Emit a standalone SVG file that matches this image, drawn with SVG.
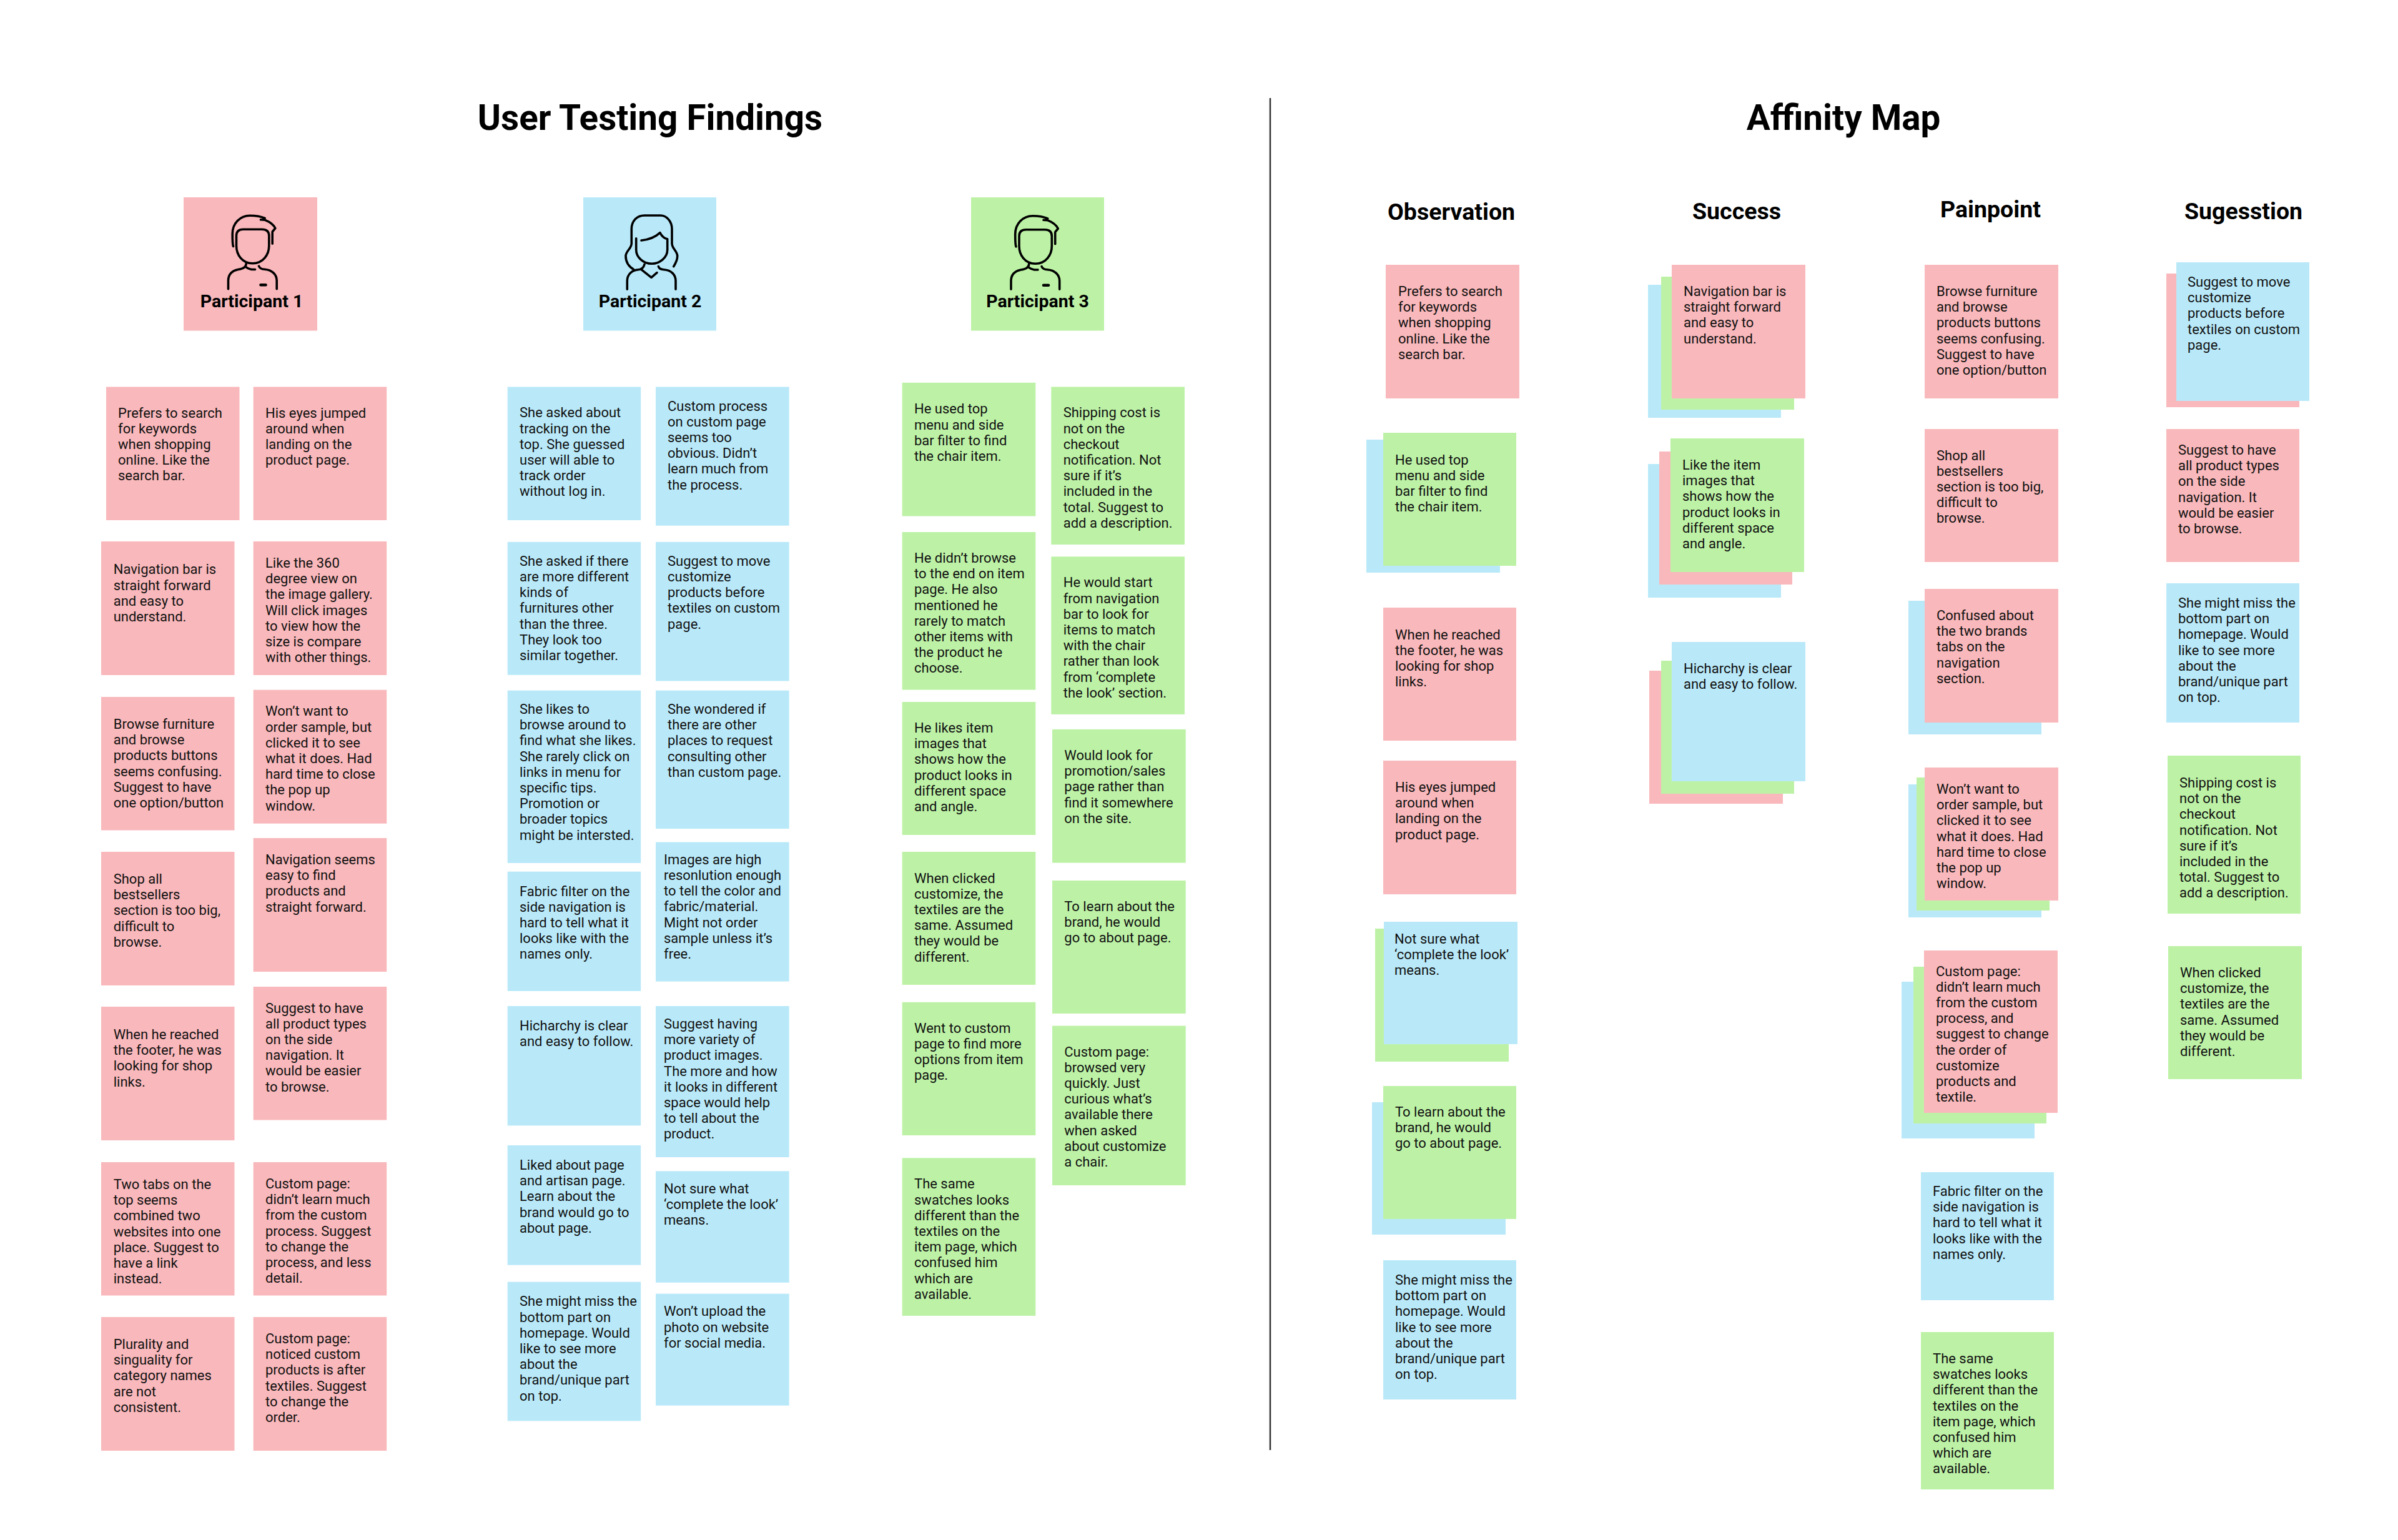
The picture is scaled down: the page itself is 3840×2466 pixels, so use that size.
<svg xmlns="http://www.w3.org/2000/svg" xmlns:xlink="http://www.w3.org/1999/xlink" width="3840" height="2466" viewBox="0 0 3840 2466">
<style>
.p{fill:#F9B8BB}.b{fill:#B9E9F9}.g{fill:#BDF2A6}
text{font-family:Roboto,"Liberation Sans",sans-serif;fill:#111}
.t{font-size:22px;transform:translateY(-1px)}
.h1{font-size:56.6px;font-weight:700;fill:#000;text-anchor:middle}
.h2{font-size:37.5px;font-weight:700;fill:#000}
.l{font-size:28.5px;font-weight:700;fill:#000;text-anchor:middle}
.i{fill:none;stroke:#000;stroke-width:3.6;stroke-linecap:round;stroke-linejoin:round}
</style>
<defs>
<g id="man" class="i">
<path d="M72 79 Q70.700 76 70.700 59 C70.700 42 83 29.700 98.700 29.700 C108 29.700 116 31 122.700 34 M116 36.300 L123 36.800 C131 40 137 45 139.300 50 L134.700 55.700 V74.700"/>
<path d="M103 106.300 C86 106.300 77 92 77 78 V62 Q77 51.700 88 51.700 H118 Q129.300 51.700 129.300 62 V78 C129.300 92 120 106.300 103 106.300 Z"/>
<path d="M92.700 106.700 Q92.700 114 80 116 C70 118 64 124 64 134 V147.300"/>
<path d="M92.700 112.300 Q98 116.500 107 116"/>
<path d="M113 110.700 Q115 115.700 122 115.700 C134 116.500 141.700 124 141.700 134 V147.300"/>
<path d="M116 140.700 H124" stroke-width="4.500"/>
</g>
<g id="woman" class="i">
<path d="M144.700 110.700 C149 104 150.700 99 150.700 94 C150.700 86 142 82 142 74 V50.700 C142 38 133 29 123.700 29 H98 C86 29 77.300 38 77.300 50.700 V74 C77.300 82 68 86 68 94 C68 103 73 111 81 115.700"/>
<path d="M84.700 65.700 V84 C84.700 96 96 106.300 109.700 106.300 C123 106.300 134.700 96 134.700 84 V66.700 Q127 65 123 56.700 C115 64 104 68 93 69"/>
<path d="M70.300 147.300 V134 C70.300 124 77 117 87 116 Q96 115.700 98 107.300"/>
<path d="M93 115.700 L109 128.300 L118 120.700"/>
<path d="M120.300 110.700 Q122 115.700 129 115.700 C141 116.500 148 124 148 134 V147.300"/>
</g>
</defs>
<rect width="3840" height="2466" fill="#fff"/>
<text id="title-left" class="h1" x="1041" y="208">User Testing Findings</text>
<text id="title-right" class="h1" x="2952" y="208">Affinity Map</text>
<line id="divider" x1="2034" y1="157" x2="2034" y2="2322" stroke="#333" stroke-width="2.500"/>
<g id="connectors"/>

<g id="participant-1"><rect class="p" x="294" y="316" width="214" height="213.500"/><use xlink:href="#man" href="#man" transform="translate(301.500 315.500)"/><text class="l" x="403" y="492">Participant 1</text></g>
<g id="participant-2"><rect class="b" x="934" y="316" width="213" height="213.500"/><use xlink:href="#woman" href="#woman" transform="translate(934 316)"/><text class="l" x="1041" y="492">Participant 2</text></g>
<g id="participant-3"><rect class="g" x="1555" y="316" width="213" height="213.500"/><use xlink:href="#man" href="#man" transform="translate(1555 316)"/><text class="l" x="1661.500" y="492">Participant 3</text></g>

<g id="p1-a1"><rect class="p" x="170" y="619.500" width="213.500" height="213.500"/><text class="t" x="189" y="669.600"><tspan x="189">Prefers to search</tspan><tspan x="189" dy="25.2">for keywords</tspan><tspan x="189" dy="25.2">when shopping</tspan><tspan x="189" dy="25.2">online. Like the</tspan><tspan x="189" dy="25.2">search bar.</tspan></text></g>
<g id="p1-a2"><rect class="p" x="162" y="867" width="213.500" height="214"/><text class="t" y="920.300"><tspan x="181.700">Navigation bar is</tspan><tspan x="181.700" dy="25.2">straight forward</tspan><tspan x="181.700" dy="25.2">and easy to</tspan><tspan x="181.700" dy="25.2">understand.</tspan></text></g>
<g id="p1-a3"><rect class="p" x="162" y="1116" width="213.500" height="213.500"/><text class="t" y="1168"><tspan x="181.700">Browse furniture</tspan><tspan x="181.700" dy="25.2">and browse</tspan><tspan x="181.700" dy="25.2">products buttons</tspan><tspan x="181.700" dy="25.2">seems confusing.</tspan><tspan x="181.700" dy="25.2">Suggest to have</tspan><tspan x="181.700" dy="25.2">one option/button</tspan></text></g>
<g id="p1-a4"><rect class="p" x="162" y="1364" width="213.500" height="214"/><text class="t" y="1416"><tspan x="181.700">Shop all</tspan><tspan x="181.700" dy="25.2">bestsellers</tspan><tspan x="181.700" dy="25.2">section is too big,</tspan><tspan x="181.700" dy="25.2">difficult to</tspan><tspan x="181.700" dy="25.2">browse.</tspan></text></g>
<g id="p1-a5"><rect class="p" x="162" y="1612" width="213.500" height="214"/><text class="t" y="1665"><tspan x="181.700">When he reached</tspan><tspan x="181.700" dy="25.2">the footer, he was</tspan><tspan x="181.700" dy="25.2">looking for shop</tspan><tspan x="181.700" dy="25.2">links.</tspan></text></g>
<g id="p1-a6"><rect class="p" x="162" y="1861" width="213.500" height="213.500"/><text class="t" y="1905"><tspan x="181.700">Two tabs on the</tspan><tspan x="181.700" dy="25.2">top seems</tspan><tspan x="181.700" dy="25.2">combined two</tspan><tspan x="181.700" dy="25.2">websites into one</tspan><tspan x="181.700" dy="25.2">place. Suggest to</tspan><tspan x="181.700" dy="25.2">have a link</tspan><tspan x="181.700" dy="25.2">instead.</tspan></text></g>
<g id="p1-a7"><rect class="p" x="162" y="2109" width="213.500" height="214"/><text class="t" y="2161"><tspan x="181.700">Plurality and</tspan><tspan x="181.700" dy="25.2">singuality for</tspan><tspan x="181.700" dy="25.2">category names</tspan><tspan x="181.700" dy="25.2">are not</tspan><tspan x="181.700" dy="25.2">consistent.</tspan></text></g>

<g id="p1-b1"><rect class="p" x="405.700" y="619.500" width="213.500" height="213.500"/><text class="t" y="669.600"><tspan x="425">His eyes jumped</tspan><tspan x="425" dy="25.2">around when</tspan><tspan x="425" dy="25.2">landing on the</tspan><tspan x="425" dy="25.2">product page.</tspan></text></g>
<g id="p1-b2"><rect class="p" x="405.700" y="867" width="213.500" height="214"/><text class="t" y="910"><tspan x="425">Like the 360</tspan><tspan x="425" dy="25.2">degree view on</tspan><tspan x="425" dy="25.2">the image gallery.</tspan><tspan x="425" dy="25.2">Will click images</tspan><tspan x="425" dy="25.2">to view how the</tspan><tspan x="425" dy="25.2">size is compare</tspan><tspan x="425" dy="25.2">with other things.</tspan></text></g>
<g id="p1-b3"><rect class="p" x="405.700" y="1104.700" width="213.500" height="214"/><text class="t" y="1147.400"><tspan x="425">Won’t want to</tspan><tspan x="425" dy="25.2">order sample, but</tspan><tspan x="425" dy="25.2">clicked it to see</tspan><tspan x="425" dy="25.2">what it does. Had</tspan><tspan x="425" dy="25.2">hard time to close</tspan><tspan x="425" dy="25.2">the pop up</tspan><tspan x="425" dy="25.2">window.</tspan></text></g>
<g id="p1-b4"><rect class="p" x="405.700" y="1342" width="213.500" height="214"/><text class="t" y="1385"><tspan x="425">Navigation seems</tspan><tspan x="425" dy="25.2">easy to find</tspan><tspan x="425" dy="25.2">products and</tspan><tspan x="425" dy="25.2">straight forward.</tspan></text></g>
<g id="p1-b5"><rect class="p" x="405.700" y="1580" width="213.500" height="213.500"/><text class="t" y="1622.600"><tspan x="425">Suggest to have</tspan><tspan x="425" dy="25.2">all product types</tspan><tspan x="425" dy="25.2">on the side</tspan><tspan x="425" dy="25.2">navigation. It</tspan><tspan x="425" dy="25.2">would be easier</tspan><tspan x="425" dy="25.2">to browse.</tspan></text></g>
<g id="p1-b6"><rect class="p" x="405.700" y="1861" width="213.500" height="213.500"/><text class="t" y="1904"><tspan x="425">Custom page:</tspan><tspan x="425" dy="25.2">didn’t learn much</tspan><tspan x="425" dy="25.2">from the custom</tspan><tspan x="425" dy="25.2">process. Suggest</tspan><tspan x="425" dy="25.2">to change the</tspan><tspan x="425" dy="25.2">process, and less</tspan><tspan x="425" dy="25.2">detail.</tspan></text></g>
<g id="p1-b7"><rect class="p" x="405.700" y="2109" width="213.500" height="214"/><text class="t" y="2152"><tspan x="425">Custom page:</tspan><tspan x="425" dy="25.2">noticed custom</tspan><tspan x="425" dy="25.2">products is after</tspan><tspan x="425" dy="25.2">textiles. Suggest</tspan><tspan x="425" dy="25.2">to change the</tspan><tspan x="425" dy="25.2">order.</tspan></text></g>

<g id="p2-a1"><rect class="b" x="812.700" y="619.500" width="213.500" height="213.500"/><text class="t" y="669.400"><tspan x="832">She asked about</tspan><tspan x="832" dy="25.2">tracking on the</tspan><tspan x="832" dy="25.2">top. She guessed</tspan><tspan x="832" dy="25.2">user will able to</tspan><tspan x="832" dy="25.2">track order</tspan><tspan x="832" dy="25.2">without log in.</tspan></text></g>
<g id="p2-a2"><rect class="b" x="812.700" y="867.800" width="213.500" height="213"/><text class="t" y="906.800"><tspan x="832">She asked if there</tspan><tspan x="832" dy="25.2">are more different</tspan><tspan x="832" dy="25.2">kinds of</tspan><tspan x="832" dy="25.2">furnitures other</tspan><tspan x="832" dy="25.2">than the three.</tspan><tspan x="832" dy="25.2">They look too</tspan><tspan x="832" dy="25.2">similar together.</tspan></text></g>
<g id="p2-a3"><rect class="b" x="812.700" y="1105.700" width="213.500" height="276.300"/><text class="t" y="1144"><tspan x="832">She likes to</tspan><tspan x="832" dy="25.2">browse around to</tspan><tspan x="832" dy="25.2">find what she likes.</tspan><tspan x="832" dy="25.2">She rarely click on</tspan><tspan x="832" dy="25.2">links in menu for</tspan><tspan x="832" dy="25.2">specific tips.</tspan><tspan x="832" dy="25.2">Promotion or</tspan><tspan x="832" dy="25.2">broader topics</tspan><tspan x="832" dy="25.2">might be intersted.</tspan></text></g>
<g id="p2-a4"><rect class="b" x="812.700" y="1395.700" width="213.500" height="191.300"/><text class="t" y="1435.500"><tspan x="832">Fabric filter on the</tspan><tspan x="832" dy="25.2">side navigation is</tspan><tspan x="832" dy="25.2">hard to tell what it</tspan><tspan x="832" dy="25.2">looks like with the</tspan><tspan x="832" dy="25.2">names only.</tspan></text></g>
<g id="p2-a5"><rect class="b" x="812.700" y="1611" width="213.500" height="191.400"/><text class="t" y="1650.900"><tspan x="832">Hicharchy is clear</tspan><tspan x="832" dy="25.2">and easy to follow.</tspan></text></g>
<g id="p2-a6"><rect class="b" x="812.700" y="1834" width="213.500" height="191.700"/><text class="t" y="1874"><tspan x="832">Liked about page</tspan><tspan x="832" dy="25.2">and artisan page.</tspan><tspan x="832" dy="25.2">Learn about the</tspan><tspan x="832" dy="25.2">brand would go to</tspan><tspan x="832" dy="25.2">about page.</tspan></text></g>
<g id="p2-a7"><rect class="b" x="812.700" y="2052.700" width="213.500" height="222.700"/><text class="t" y="2092.300"><tspan x="832">She might miss the</tspan><tspan x="832" dy="25.2">bottom part on</tspan><tspan x="832" dy="25.2">homepage. Would</tspan><tspan x="832" dy="25.2">like to see more</tspan><tspan x="832" dy="25.2">about the</tspan><tspan x="832" dy="25.2">brand/unique part</tspan><tspan x="832" dy="25.2">on top.</tspan></text></g>

<g id="p2-b1"><rect class="b" x="1050" y="619.500" width="213.700" height="222.200"/><text class="t" y="658.500"><tspan x="1069">Custom process</tspan><tspan x="1069" dy="25.2">on custom page</tspan><tspan x="1069" dy="25.2">seems too</tspan><tspan x="1069" dy="25.2">obvious. Didn’t</tspan><tspan x="1069" dy="25.2">learn much from</tspan><tspan x="1069" dy="25.2">the process.</tspan></text></g>
<g id="p2-b2"><rect class="b" x="1050" y="867.800" width="213.700" height="222.700"/><text class="t" y="906.800"><tspan x="1069">Suggest to move</tspan><tspan x="1069" dy="25.2">customize</tspan><tspan x="1069" dy="25.2">products before</tspan><tspan x="1069" dy="25.2">textiles on custom</tspan><tspan x="1069" dy="25.2">page.</tspan></text></g>
<g id="p2-b3"><rect class="b" x="1050" y="1105.700" width="213.700" height="221.300"/><text class="t" y="1144"><tspan x="1069">She wondered if</tspan><tspan x="1069" dy="25.2">there are other</tspan><tspan x="1069" dy="25.2">places to request</tspan><tspan x="1069" dy="25.2">consulting other</tspan><tspan x="1069" dy="25.2">than custom page.</tspan></text></g>
<g id="p2-b4"><rect class="b" x="1050" y="1348.500" width="213.700" height="223.100"/><text class="t" y="1384.800"><tspan x="1063">Images are high</tspan><tspan x="1063" dy="25.2">resonlution enough</tspan><tspan x="1063" dy="25.2">to tell the color and</tspan><tspan x="1063" dy="25.2">fabric/material.</tspan><tspan x="1063" dy="25.2">Might not order</tspan><tspan x="1063" dy="25.2">sample unless it’s</tspan><tspan x="1063" dy="25.2">free.</tspan></text></g>
<g id="p2-b5"><rect class="b" x="1050" y="1611" width="213.700" height="242"/><text class="t" y="1648"><tspan x="1063">Suggest having</tspan><tspan x="1063" dy="25.2">more variety of</tspan><tspan x="1063" dy="25.2">product images.</tspan><tspan x="1063" dy="25.2">The more and how</tspan><tspan x="1063" dy="25.2">it looks in different</tspan><tspan x="1063" dy="25.2">space would help</tspan><tspan x="1063" dy="25.2">to tell about the</tspan><tspan x="1063" dy="25.2">product.</tspan></text></g>
<g id="p2-b6"><rect class="b" x="1050" y="1875.300" width="213.700" height="178.500"/><text class="t" y="1912"><tspan x="1063">Not sure what</tspan><tspan x="1063" dy="25.2">‘complete the look’</tspan><tspan x="1063" dy="25.2">means.</tspan></text></g>
<g id="p2-b7"><rect class="b" x="1050" y="2071.600" width="213.700" height="179.100"/><text class="t" y="2108.400"><tspan x="1063">Won’t upload the</tspan><tspan x="1063" dy="25.2">photo on website</tspan><tspan x="1063" dy="25.2">for social media.</tspan></text></g>

<g id="p3-a1"><rect class="g" x="1444.700" y="612.800" width="213.600" height="213.700"/><text class="t" y="663.300"><tspan x="1464">He used top</tspan><tspan x="1464" dy="25.2">menu and side</tspan><tspan x="1464" dy="25.2">bar filter to find</tspan><tspan x="1464" dy="25.2">the chair item.</tspan></text></g>
<g id="p3-a2"><rect class="g" x="1444.700" y="852" width="213.600" height="252.600"/><text class="t" y="902"><tspan x="1464">He didn’t browse</tspan><tspan x="1464" dy="25.2">to the end on item</tspan><tspan x="1464" dy="25.2">page. He also</tspan><tspan x="1464" dy="25.2">mentioned he</tspan><tspan x="1464" dy="25.2">rarely to match</tspan><tspan x="1464" dy="25.2">other items with</tspan><tspan x="1464" dy="25.2">the product he</tspan><tspan x="1464" dy="25.2">choose.</tspan></text></g>
<g id="p3-a3"><rect class="g" x="1444.700" y="1124" width="213.600" height="213"/><text class="t" y="1174"><tspan x="1464">He likes item</tspan><tspan x="1464" dy="25.2">images that</tspan><tspan x="1464" dy="25.2">shows how the</tspan><tspan x="1464" dy="25.2">product looks in</tspan><tspan x="1464" dy="25.2">different space</tspan><tspan x="1464" dy="25.2">and angle.</tspan></text></g>
<g id="p3-a4"><rect class="g" x="1444.700" y="1364" width="213.600" height="213"/><text class="t" y="1414.500"><tspan x="1464">When clicked</tspan><tspan x="1464" dy="25.2">customize, the</tspan><tspan x="1464" dy="25.2">textiles are the</tspan><tspan x="1464" dy="25.2">same. Assumed</tspan><tspan x="1464" dy="25.2">they would be</tspan><tspan x="1464" dy="25.2">different.</tspan></text></g>
<g id="p3-a5"><rect class="g" x="1444.700" y="1604.800" width="213.600" height="213.200"/><text class="t" y="1654.800"><tspan x="1464">Went to custom</tspan><tspan x="1464" dy="25.2">page to find more</tspan><tspan x="1464" dy="25.2">options from item</tspan><tspan x="1464" dy="25.2">page.</tspan></text></g>
<g id="p3-a6"><rect class="g" x="1444.700" y="1854.300" width="213.600" height="252.700"/><text class="t" y="1904.300"><tspan x="1464">The same</tspan><tspan x="1464" dy="25.2">swatches looks</tspan><tspan x="1464" dy="25.2">different than the</tspan><tspan x="1464" dy="25.2">textiles on the</tspan><tspan x="1464" dy="25.2">item page, which</tspan><tspan x="1464" dy="25.2">confused him</tspan><tspan x="1464" dy="25.2">which are</tspan><tspan x="1464" dy="25.2">available.</tspan></text></g>

<g id="p3-b1"><rect class="g" x="1683.300" y="619.400" width="213.700" height="252.600"/><text class="t" y="669.400"><tspan x="1702.700">Shipping cost is</tspan><tspan x="1702.700" dy="25.2">not on the</tspan><tspan x="1702.700" dy="25.2">checkout</tspan><tspan x="1702.700" dy="25.2">notification. Not</tspan><tspan x="1702.700" dy="25.2">sure if it’s</tspan><tspan x="1702.700" dy="25.2">included in the</tspan><tspan x="1702.700" dy="25.2">total. Suggest to</tspan><tspan x="1702.700" dy="25.2">add a description.</tspan></text></g>
<g id="p3-b2"><rect class="g" x="1683.300" y="891.300" width="213.700" height="252.600"/><text class="t" y="941.300"><tspan x="1702.700">He would start</tspan><tspan x="1702.700" dy="25.2">from navigation</tspan><tspan x="1702.700" dy="25.2">bar to look for</tspan><tspan x="1702.700" dy="25.2">items to match</tspan><tspan x="1702.700" dy="25.2">with the chair</tspan><tspan x="1702.700" dy="25.2">rather than look</tspan><tspan x="1702.700" dy="25.2">from ‘complete</tspan><tspan x="1702.700" dy="25.2">the look’ section.</tspan></text></g>
<g id="p3-b3"><rect class="g" x="1685" y="1167.900" width="213.700" height="213.700"/><text class="t" y="1217.900"><tspan x="1704.300">Would look for</tspan><tspan x="1704.300" dy="25.2">promotion/sales</tspan><tspan x="1704.300" dy="25.2">page rather than</tspan><tspan x="1704.300" dy="25.2">find it somewhere</tspan><tspan x="1704.300" dy="25.2">on the site.</tspan></text></g>
<g id="p3-b4"><rect class="g" x="1685" y="1410" width="213.700" height="213"/><text class="t" y="1460"><tspan x="1704.300">To learn about the</tspan><tspan x="1704.300" dy="25.2">brand, he would</tspan><tspan x="1704.300" dy="25.2">go to about page.</tspan></text></g>
<g id="p3-b5"><rect class="g" x="1685" y="1642.600" width="213.700" height="255.400"/><text class="t" y="1692.600"><tspan x="1704.300">Custom page:</tspan><tspan x="1704.300" dy="25.2">browsed very</tspan><tspan x="1704.300" dy="25.2">quickly. Just</tspan><tspan x="1704.300" dy="25.2">curious what’s</tspan><tspan x="1704.300" dy="25.2">available there</tspan><tspan x="1704.300" dy="25.2">when asked</tspan><tspan x="1704.300" dy="25.2">about customize</tspan><tspan x="1704.300" dy="25.2">a chair.</tspan></text></g>

<text class="h2" x="2222" y="352">Observation</text>
<text class="h2" x="2710" y="351">Success</text>
<text class="h2" x="3107" y="348">Painpoint</text>
<text class="h2" x="3498" y="351">Sugesstion</text>

<g id="obs-1"><rect class="p" x="2219" y="424" width="214" height="214"/><text class="t" y="475"><tspan x="2239">Prefers to search</tspan><tspan x="2239" dy="25.2">for keywords</tspan><tspan x="2239" dy="25.2">when shopping</tspan><tspan x="2239" dy="25.2">online. Like the</tspan><tspan x="2239" dy="25.2">search bar.</tspan></text></g>
<g id="obs-2"><rect class="b" x="2188" y="704" width="214" height="213"/><rect class="g" x="2215" y="693" width="213" height="213"/><text class="t" y="744.500"><tspan x="2234">He used top</tspan><tspan x="2234" dy="25.2">menu and side</tspan><tspan x="2234" dy="25.2">bar filter to find</tspan><tspan x="2234" dy="25.2">the chair item.</tspan></text></g>
<g id="obs-3"><rect class="p" x="2215" y="973" width="213" height="213"/><text class="t" y="1024.500"><tspan x="2234">When he reached</tspan><tspan x="2234" dy="25.2">the footer, he was</tspan><tspan x="2234" dy="25.2">looking for shop</tspan><tspan x="2234" dy="25.2">links.</tspan></text></g>
<g id="obs-4"><rect class="p" x="2215" y="1218" width="213" height="214"/><text class="t" y="1269"><tspan x="2234">His eyes jumped</tspan><tspan x="2234" dy="25.2">around when</tspan><tspan x="2234" dy="25.2">landing on the</tspan><tspan x="2234" dy="25.2">product page.</tspan></text></g>
<g id="obs-5"><rect class="g" x="2202" y="1487" width="214" height="213"/><rect class="b" x="2216" y="1476" width="214" height="196"/><text class="t" y="1512"><tspan x="2233">Not sure what</tspan><tspan x="2233" dy="25.2">‘complete the look’</tspan><tspan x="2233" dy="25.2">means.</tspan></text></g>
<g id="obs-6"><rect class="b" x="2197" y="1765" width="214" height="212"/><rect class="g" x="2215" y="1739" width="213" height="213"/><text class="t" y="1789"><tspan x="2234">To learn about the</tspan><tspan x="2234" dy="25.2">brand, he would</tspan><tspan x="2234" dy="25.2">go to about page.</tspan></text></g>
<g id="obs-7"><rect class="b" x="2215" y="2018" width="213" height="223"/><text class="t" y="2058"><tspan x="2234">She might miss the</tspan><tspan x="2234" dy="25.2">bottom part on</tspan><tspan x="2234" dy="25.2">homepage. Would</tspan><tspan x="2234" dy="25.2">like to see more</tspan><tspan x="2234" dy="25.2">about the</tspan><tspan x="2234" dy="25.2">brand/unique part</tspan><tspan x="2234" dy="25.2">on top.</tspan></text></g>

<g id="suc-1"><rect class="b" x="2639" y="456" width="213" height="213"/><rect class="g" x="2660" y="443" width="213" height="213"/><rect class="p" x="2677" y="424" width="214" height="214"/><text class="t" y="475"><tspan x="2696">Navigation bar is</tspan><tspan x="2696" dy="25.2">straight forward</tspan><tspan x="2696" dy="25.2">and easy to</tspan><tspan x="2696" dy="25.2">understand.</tspan></text></g>
<g id="suc-2"><rect class="b" x="2639" y="743" width="213" height="214"/><rect class="p" x="2657" y="723" width="213" height="213"/><rect class="g" x="2675" y="702" width="214" height="214"/><text class="t" y="753"><tspan x="2694">Like the item</tspan><tspan x="2694" dy="25.2">images that</tspan><tspan x="2694" dy="25.2">shows how the</tspan><tspan x="2694" dy="25.2">product looks in</tspan><tspan x="2694" dy="25.2">different space</tspan><tspan x="2694" dy="25.2">and angle.</tspan></text></g>
<g id="suc-3"><rect class="p" x="2641" y="1074" width="214" height="213"/><rect class="g" x="2660" y="1058" width="213" height="213"/><rect class="b" x="2677" y="1028" width="214" height="223"/><text class="t" y="1079"><tspan x="2696">Hicharchy is clear</tspan><tspan x="2696" dy="25.2">and easy to follow.</tspan></text></g>

<g id="pain-1"><rect class="p" x="3082" y="424" width="214" height="214"/><text class="t" y="475"><tspan x="3101">Browse furniture</tspan><tspan x="3101" dy="25.2">and browse</tspan><tspan x="3101" dy="25.2">products buttons</tspan><tspan x="3101" dy="25.2">seems confusing.</tspan><tspan x="3101" dy="25.2">Suggest to have</tspan><tspan x="3101" dy="25.2">one option/button</tspan></text></g>
<g id="pain-2"><rect class="p" x="3082" y="687" width="214" height="213"/><text class="t" y="737.500"><tspan x="3101">Shop all</tspan><tspan x="3101" dy="25.2">bestsellers</tspan><tspan x="3101" dy="25.2">section is too big,</tspan><tspan x="3101" dy="25.2">difficult to</tspan><tspan x="3101" dy="25.2">browse.</tspan></text></g>
<g id="pain-3"><rect class="b" x="3056" y="962" width="213" height="214"/><rect class="p" x="3082" y="943" width="214" height="214"/><text class="t" y="994"><tspan x="3101">Confused about</tspan><tspan x="3101" dy="25.2">the two brands</tspan><tspan x="3101" dy="25.2">tabs on the</tspan><tspan x="3101" dy="25.2">navigation</tspan><tspan x="3101" dy="25.2">section.</tspan></text></g>
<g id="pain-4"><rect class="b" x="3056" y="1256" width="213" height="213"/><rect class="g" x="3069" y="1245" width="213" height="213"/><rect class="p" x="3082" y="1229" width="214" height="213"/><text class="t" y="1272"><tspan x="3101">Won’t want to</tspan><tspan x="3101" dy="25.2">order sample, but</tspan><tspan x="3101" dy="25.2">clicked it to see</tspan><tspan x="3101" dy="25.2">what it does. Had</tspan><tspan x="3101" dy="25.2">hard time to close</tspan><tspan x="3101" dy="25.2">the pop up</tspan><tspan x="3101" dy="25.2">window.</tspan></text></g>
<g id="pain-5"><rect class="b" x="3045" y="1572" width="213" height="251"/><rect class="g" x="3064" y="1548" width="213" height="251"/><rect class="p" x="3081" y="1522" width="214" height="260"/><text class="t" y="1563.600"><tspan x="3100">Custom page:</tspan><tspan x="3100" dy="25.2">didn’t learn much</tspan><tspan x="3100" dy="25.2">from the custom</tspan><tspan x="3100" dy="25.2">process, and</tspan><tspan x="3100" dy="25.2">suggest to change</tspan><tspan x="3100" dy="25.2">the order of</tspan><tspan x="3100" dy="25.2">customize</tspan><tspan x="3100" dy="25.2">products and</tspan><tspan x="3100" dy="25.2">textile.</tspan></text></g>
<g id="pain-6"><rect class="b" x="3076" y="1877" width="213" height="205"/><text class="t" y="1916"><tspan x="3095">Fabric filter on the</tspan><tspan x="3095" dy="25.2">side navigation is</tspan><tspan x="3095" dy="25.2">hard to tell what it</tspan><tspan x="3095" dy="25.2">looks like with the</tspan><tspan x="3095" dy="25.2">names only.</tspan></text></g>
<g id="pain-7"><rect class="g" x="3076" y="2133" width="213" height="252"/><text class="t" y="2184"><tspan x="3095">The same</tspan><tspan x="3095" dy="25.2">swatches looks</tspan><tspan x="3095" dy="25.2">different than the</tspan><tspan x="3095" dy="25.2">textiles on the</tspan><tspan x="3095" dy="25.2">item page, which</tspan><tspan x="3095" dy="25.2">confused him</tspan><tspan x="3095" dy="25.2">which are</tspan><tspan x="3095" dy="25.2">available.</tspan></text></g>

<g id="sug-1"><rect class="p" x="3469" y="438" width="213" height="214"/><rect class="b" x="3485" y="420" width="213" height="222"/><text class="t" y="460"><tspan x="3503">Suggest to move</tspan><tspan x="3503" dy="25.2">customize</tspan><tspan x="3503" dy="25.2">products before</tspan><tspan x="3503" dy="25.2">textiles on custom</tspan><tspan x="3503" dy="25.2">page.</tspan></text></g>
<g id="sug-2"><rect class="p" x="3469" y="687" width="213" height="213"/><text class="t" y="729"><tspan x="3488">Suggest to have</tspan><tspan x="3488" dy="25.2">all product types</tspan><tspan x="3488" dy="25.2">on the side</tspan><tspan x="3488" dy="25.2">navigation. It</tspan><tspan x="3488" dy="25.2">would be easier</tspan><tspan x="3488" dy="25.2">to browse.</tspan></text></g>
<g id="sug-3"><rect class="b" x="3469" y="934" width="213" height="223"/><text class="t" y="974"><tspan x="3488">She might miss the</tspan><tspan x="3488" dy="25.2">bottom part on</tspan><tspan x="3488" dy="25.2">homepage. Would</tspan><tspan x="3488" dy="25.2">like to see more</tspan><tspan x="3488" dy="25.2">about the</tspan><tspan x="3488" dy="25.2">brand/unique part</tspan><tspan x="3488" dy="25.2">on top.</tspan></text></g>
<g id="sug-4"><rect class="g" x="3471" y="1210" width="213" height="253"/><text class="t" y="1262"><tspan x="3490">Shipping cost is</tspan><tspan x="3490" dy="25.2">not on the</tspan><tspan x="3490" dy="25.2">checkout</tspan><tspan x="3490" dy="25.2">notification. Not</tspan><tspan x="3490" dy="25.2">sure if it’s</tspan><tspan x="3490" dy="25.2">included in the</tspan><tspan x="3490" dy="25.2">total. Suggest to</tspan><tspan x="3490" dy="25.2">add a description.</tspan></text></g>
<g id="sug-5"><rect class="g" x="3472" y="1515" width="214" height="213"/><text class="t" y="1566"><tspan x="3491">When clicked</tspan><tspan x="3491" dy="25.2">customize, the</tspan><tspan x="3491" dy="25.2">textiles are the</tspan><tspan x="3491" dy="25.2">same. Assumed</tspan><tspan x="3491" dy="25.2">they would be</tspan><tspan x="3491" dy="25.2">different.</tspan></text></g>
</svg>
